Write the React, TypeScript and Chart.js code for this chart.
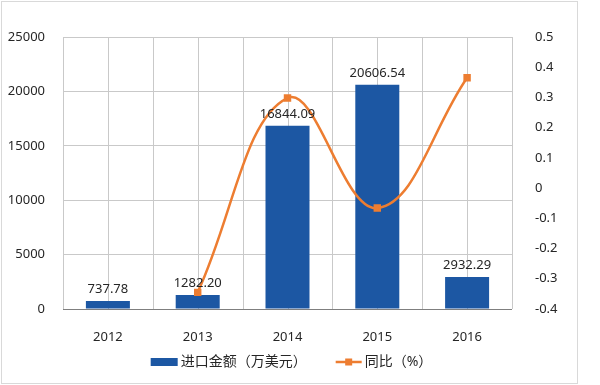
import React, { useEffect, useRef } from "react";
import { Chart, registerables } from "chart.js";
Chart.register(...registerables);

const categories = ["2012", "2013", "2014", "2015", "2016"];
const importValues = [737.78, 1282.2, 16844.09, 20606.54, 2932.29];
const yoyValues: (number | null)[] = [null, -0.345, 0.298, -0.066, 0.365];
const barLabel = "进口金额（万美元）";
const lineLabel = "同比（%）";

const BAR_COLOR = "#1C57A3";
const LINE_COLOR = "#ED7D31";
const TEXT_COLOR = "#262626";
const GRID_COLOR = "#C9C9C9";
const FONT_FAMILY = "'Noto Sans', 'Noto Sans CJK SC', sans-serif";

const decorPlugin = {
  id: "decor",
  beforeDatasetsDraw(chart: any) {
    const { ctx, chartArea } = chart;
    const { left, right, top, bottom } = chartArea;
    ctx.save();
    ctx.strokeStyle = GRID_COLOR;
    ctx.lineWidth = 1;
    const n = categories.length * 2;
    for (let i = 0; i <= n; i++) {
      const x = Math.round(left + (i * (right - left)) / n) + 0.5;
      ctx.beginPath();
      ctx.moveTo(x, top);
      ctx.lineTo(x, bottom);
      ctx.stroke();
    }
    ctx.strokeStyle = "#7F7F7F";
    ctx.beginPath();
    ctx.moveTo(left, Math.round(bottom) + 0.5);
    ctx.lineTo(right, Math.round(bottom) + 0.5);
    ctx.stroke();
    ctx.restore();
  },
  afterDatasetsDraw(chart: any) {
    const { ctx } = chart;
    const meta = chart.getDatasetMeta(0);
    ctx.save();
    ctx.font = `13px ${FONT_FAMILY}`;
    ctx.fillStyle = TEXT_COLOR;
    ctx.textAlign = "center";
    ctx.textBaseline = "bottom";
    meta.data.forEach((el: any, i: number) => {
      ctx.fillText(importValues[i].toFixed(2), el.x, el.y - 5);
    });
    ctx.restore();
  },
  afterDraw(chart: any) {
    const { ctx, chartArea } = chart;
    ctx.save();
    // outer border
    ctx.strokeStyle = "#D9D9D9";
    ctx.lineWidth = 1;
    ctx.strokeRect(1.5, 1.5, 576, 382);
    // legend
    ctx.font = `14px ${FONT_FAMILY}`;
    ctx.textBaseline = "middle";
    ctx.textAlign = "left";
    const w1 = ctx.measureText(barLabel).width;
    const w2 = ctx.measureText(lineLabel).width;
    const boxW = 27;
    const lineW = 26;
    const gap = 3;
    const itemGap = 29;
    const total = boxW + gap + w1 + itemGap + lineW + gap + w2;
    const cx = (chartArea.left + chartArea.right) / 2 + 4;
    const y = 362;
    let x = cx - total / 2;
    ctx.fillStyle = BAR_COLOR;
    ctx.fillRect(x, y - 4, boxW, 8);
    x += boxW + gap;
    ctx.fillStyle = TEXT_COLOR;
    ctx.fillText(barLabel, x, y);
    x += w1 + itemGap;
    ctx.strokeStyle = LINE_COLOR;
    ctx.lineWidth = 2.5;
    ctx.beginPath();
    ctx.moveTo(x, y);
    ctx.lineTo(x + lineW, y);
    ctx.stroke();
    ctx.fillStyle = LINE_COLOR;
    ctx.fillRect(x + lineW / 2 - 3.5, y - 3.5, 7, 7);
    x += lineW + gap;
    ctx.fillStyle = TEXT_COLOR;
    ctx.fillText(lineLabel, x, y);
    ctx.restore();
  },
};

export default function App() {
  const ref = useRef<HTMLCanvasElement>(null);
  useEffect(() => {
    document.body.style.margin = "0";
    const chart = new Chart(ref.current!, {
      data: {
        labels: categories,
        datasets: [
          {
            type: "bar",
            label: barLabel,
            data: importValues,
            backgroundColor: BAR_COLOR,
            barPercentage: 0.49,
            categoryPercentage: 1,
            yAxisID: "y",
            order: 1,
          },
          {
            type: "line",
            label: lineLabel,
            data: yoyValues,
            borderColor: LINE_COLOR,
            backgroundColor: LINE_COLOR,
            borderWidth: 2.5,
            pointStyle: "rect",
            pointRadius: 3.5,
            tension: 0.4,
            yAxisID: "y1",
            order: 0,
          },
        ],
      } as any,
      options: {
        responsive: false,
        animation: false,
        devicePixelRatio: 1,
        layout: { padding: { top: 37, left: 0, right: 0, bottom: 0 } },
        plugins: { legend: { display: false }, tooltip: { enabled: false } },
        scales: {
          x: {
            grid: { display: false },
            border: { display: false },
            ticks: { color: TEXT_COLOR, font: { size: 13, family: FONT_FAMILY }, padding: 12 },
            afterFit: (s: any) => {
              s.height = 76;
            },
          },
          y: {
            position: "left",
            min: 0,
            max: 25000,
            grid: { color: GRID_COLOR, drawTicks: false },
            border: { display: false },
            ticks: {
              stepSize: 5000,
              color: TEXT_COLOR,
              font: { size: 13, family: FONT_FAMILY },
              padding: 18,
              callback: (v: any) => String(v),
            },
            afterFit: (s: any) => {
              s.width = 63;
            },
          },
          y1: {
            position: "right",
            min: -0.4,
            max: 0.5,
            grid: { display: false },
            border: { display: false },
            ticks: {
              stepSize: 0.1,
              color: TEXT_COLOR,
              font: { size: 13, family: FONT_FAMILY },
              padding: 15,
              callback: (v: any) => String(Number(Number(v).toFixed(1))),
            },
            afterFit: (s: any) => {
              s.width = 88;
            },
          },
        },
      } as any,
      plugins: [decorPlugin],
    });
    return () => chart.destroy();
  }, []);
  return (
    <div style={{ position: "absolute", left: 0, top: 0, width: 600, height: 385 }}>
      <canvas ref={ref} width={600} height={385} />
    </div>
  );
}
